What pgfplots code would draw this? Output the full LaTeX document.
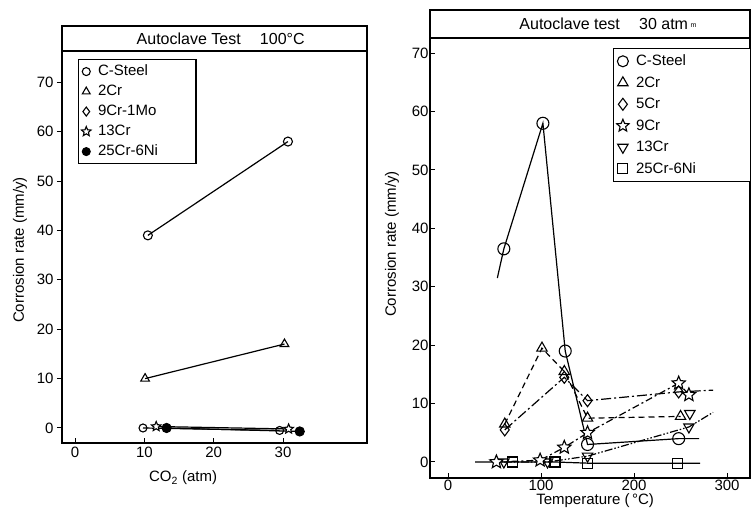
\documentclass[border=0pt]{standalone}
\usepackage{fontspec}
\setmainfont{Liberation Sans}
\usepackage{pgfplots}
\pgfplotsset{compat=1.18}
\pgfdeclareplotmark{ostar}{%
  \pgfpathmoveto{\pgfpointpolar{90}{\pgfplotmarksize}}%
  \pgfpathlineto{\pgfpointpolar{126}{0.45\pgfplotmarksize}}%
  \pgfpathlineto{\pgfpointpolar{162}{\pgfplotmarksize}}%
  \pgfpathlineto{\pgfpointpolar{198}{0.45\pgfplotmarksize}}%
  \pgfpathlineto{\pgfpointpolar{234}{\pgfplotmarksize}}%
  \pgfpathlineto{\pgfpointpolar{270}{0.45\pgfplotmarksize}}%
  \pgfpathlineto{\pgfpointpolar{306}{\pgfplotmarksize}}%
  \pgfpathlineto{\pgfpointpolar{342}{0.45\pgfplotmarksize}}%
  \pgfpathlineto{\pgfpointpolar{18}{\pgfplotmarksize}}%
  \pgfpathlineto{\pgfpointpolar{54}{0.45\pgfplotmarksize}}%
  \pgfpathclose
  \pgfusepathqfillstroke
}
\newcommand\LA[1]{\makebox[93pt][l]{#1}}
\newcommand\LB[1]{\makebox[110pt][l]{#1}}
\begin{document}
\begin{tikzpicture}[x=1pt,y=1pt]
\useasboundingbox (0pt,0pt) rectangle (751pt,518pt);
\pgfplotsset{
  common/.style={
    scale only axis,
    axis line style={line width=1.4pt},
    xtick pos=left, ytick pos=left,
    xtick align=inside,
    major tick length=5pt,
    every tick/.style={black, line width=1pt},
    /pgf/number format/assume math mode=true,
    tick label style={font=\fontsize{15}{17}\selectfont},
    label style={font=\fontsize{15}{17}\selectfont},
    every axis plot/.append style={black, line width=1.2pt},
    legend cell align=left,
  }
}
% ---------------- Left panel ----------------
\begin{axis}[common,
  at={(62pt,75pt)}, anchor=south west, width=305pt, height=417pt,
  ytick align=outside,
  xmin=-1.88, xmax=42.1, ymin=-3.04, ymax=81.4,
  xtick={0,10,20,30}, ytick={0,10,...,70},
  xlabel={CO\textsubscript{2} (atm)},
  ylabel={Corrosion rate (mm/y)},
  xlabel style={at={(axis description cs:0.397,-0.084)}, anchor=center},
  ylabel style={at={(axis description cs:-0.138,0.463)}, anchor=center},
  legend style={at={(axis description cs:0.052,0.921)}, anchor=north west,
    draw=black, line width=1.3pt, font=\fontsize{15}{17}\selectfont,
    row sep=0pt, column sep=5pt,
    nodes={inner sep=2pt, text height=12pt, text depth=4pt}},
]
\addlegendimage{only marks, mark=o, mark size=4pt, line width=1.1pt}
\addlegendentry{\LA{C-Steel}}
\addlegendimage{only marks, mark=triangle, mark size=4.5pt, line width=1.1pt}
\addlegendentry{\LA{2Cr}}
\addlegendimage{only marks, mark=diamond, mark size=4.5pt, line width=1.1pt}
\addlegendentry{\LA{9Cr-1Mo}}
\addlegendimage{only marks, mark=ostar, mark size=5pt, mark options={fill=white}, line width=1.1pt}
\addlegendentry{\LA{13Cr}}
\addlegendimage{only marks, mark=*, mark size=4pt, line width=1pt}
\addlegendentry{\LA{25Cr-6Ni}}

\draw[line width=1.4pt] (axis cs:-1.88,76.3) -- (axis cs:42.1,76.3);
\node[font=\fontsize{16}{18}\selectfont] at (axis cs:21,78.9) {Autoclave Test\hspace{1.2em}100°C};

\addplot[forget plot, mark=o, mark size=4.5pt, mark options={fill=white, solid, line width=1.1pt}]
  coordinates {(10.5,39) (30.7,58)};
\addplot[forget plot, mark=triangle, mark size=5pt, mark options={fill=white, solid, line width=1.1pt}]
  coordinates {(10.1,10) (30.2,17)};
\addplot[forget plot, mark=o, mark size=4pt, mark options={fill=white, solid, line width=1.1pt}]
  coordinates {(9.8,0) (29.5,-0.5)};
\addplot[forget plot, mark=ostar, mark size=5pt, mark options={fill=white, solid, line width=1.1pt}]
  coordinates {(11.7,0.3) (30.8,-0.2)};
\addplot[forget plot, mark=*, mark size=4.5pt, mark options={fill=black, solid}]
  coordinates {(13.2,0) (32.4,-0.7)};
\end{axis}

% ---------------- Right panel ----------------
\begin{axis}[common,
  at={(430pt,40pt)}, anchor=south west, width=320pt, height=468pt,
  ytick align=inside,
  xmin=-19.4, xmax=324.7, ymin=-2.74, ymax=77.4,
  xtick={0,100,200,300}, ytick={0,10,...,70},
  xticklabel style={yshift=2pt},
  yticklabel style={xshift=2pt},
  xlabel={Temperature (\,°C)},
  ylabel={Corrosion rate (mm/y)},
  xlabel style={at={(axis description cs:0.516,-0.048)}, anchor=center},
  ylabel style={at={(axis description cs:-0.119,0.50)}, anchor=center},
  legend style={at={(axis description cs:0.572,0.919)}, anchor=north west,
    draw=black, line width=1.3pt, font=\fontsize{15}{17}\selectfont,
    row sep=0pt, column sep=5pt,
    nodes={inner sep=2pt, text height=13pt, text depth=4.5pt}},
]
\addlegendimage{only marks, mark=o, mark size=5.5pt, line width=1.1pt}
\addlegendentry{\LB{C-Steel}}
\addlegendimage{only marks, mark=triangle, mark size=6pt, line width=1.1pt}
\addlegendentry{\LB{2Cr}}
\addlegendimage{only marks, mark=diamond, mark size=6pt, line width=1.1pt}
\addlegendentry{\LB{5Cr}}
\addlegendimage{only marks, mark=ostar, mark size=6.5pt, mark options={fill=white}, line width=1.1pt}
\addlegendentry{\LB{9Cr}}
\addlegendimage{only marks, mark=triangle, mark size=6pt, mark options={rotate=180}, line width=1.1pt}
\addlegendentry{\LB{13Cr}}
\addlegendimage{only marks, mark=square, mark size=5pt, line width=1.1pt}
\addlegendentry{\LB{25Cr-6Ni}}

\draw[line width=1.4pt] (axis cs:-19.4,72.6) -- (axis cs:324.7,72.6);
\node[font=\fontsize{16}{18}\selectfont] at (axis cs:172,75) {Autoclave test\hspace{1.2em}30 atm\,\raisebox{2pt}{\fontsize{7}{8}\selectfont m}};

% 25Cr-6Ni
\addplot[forget plot, mark=square, mark size=5pt, mark indices={2,3,4,5},
  mark options={fill=white, solid, line width=1.1pt}]
  coordinates {(29,0) (69,0) (115,0) (150,-0.2) (247,-0.2) (271,-0.2)};
% 13Cr
\addplot[forget plot, dash pattern=on 8pt off 2pt on 1.5pt off 2pt on 1.5pt off 2pt,
  mark=triangle, mark size=6pt, mark indices={1,2,3,4},
  mark options={fill=white, solid, rotate=180, line width=1.1pt}]
  coordinates {(60,0) (107,0) (150,1) (259,6) (285,8.5)};
\addplot[forget plot, only marks, mark=triangle, mark size=6pt,
  mark options={fill=white, solid, rotate=180, line width=1.1pt}]
  coordinates {(260,8.3)};
% 9Cr
\addplot[forget plot, dash pattern=on 7pt off 3pt on 2pt off 3pt,
  mark=ostar, mark size=7pt, mark options={fill=white, solid, line width=1.1pt}]
  coordinates {(52,0) (99,0.3) (125,2.5) (150,5) (248,13.5) (259,11.5)};
% C-Steel
\addplot[forget plot, solid, mark=o, mark size=6pt, mark indices={2,3,4,5,6},
  mark options={fill=white, solid, line width=1.1pt}]
  coordinates {(53,31.5) (60,36.5) (102,58) (126,19) (150,3) (248,4) (270,4)};
% 5Cr
\addplot[forget plot, dash pattern=on 10pt off 3pt on 2pt off 3pt,
  mark=diamond, mark size=6pt, mark indices={1,2,3,4},
  mark options={fill=white, solid, line width=1.1pt}]
  coordinates {(61,5.5) (125,14.5) (150,10.5) (248,12) (285,12.3)};
% 2Cr
\addplot[forget plot, dash pattern=on 6pt off 4pt,
  mark=triangle, mark size=6pt, mark options={fill=white, solid, line width=1.1pt}]
  coordinates {(61,6.5) (101,19.5) (125,15.5) (150,7.5) (250,7.8)};
\end{axis}
\end{tikzpicture}
\end{document}
